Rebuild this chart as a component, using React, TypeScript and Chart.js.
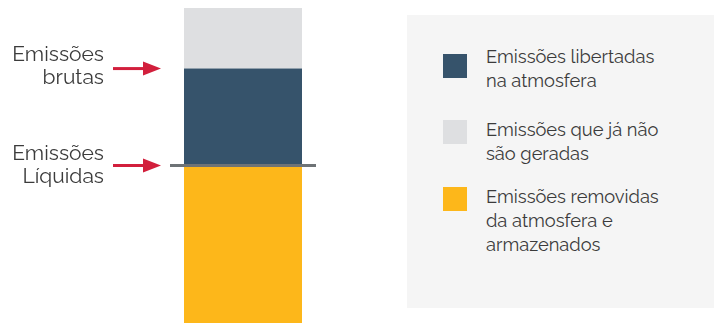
import React, { useEffect, useRef } from "react";
import { Chart, registerables } from "chart.js";

Chart.register(...registerables);

const categories = ["Emissões"];
const removedValues = [52];
const releasedValues = [32];
const avoidedValues = [20];
const seriesLabels = [
  "Emissões removidas da atmosfera e armazenados",
  "Emissões libertadas na atmosfera",
  "Emissões que já não são geradas",
];
const seriesColors = ["#FDB71A", "#36536B", "#DEDFE1"];
const grossValue = removedValues[0] + releasedValues[0];
const netValue = removedValues[0];
const axisMax = removedValues[0] + releasedValues[0] + avoidedValues[0];

const legendItems = [
  { lines: ["Emissões libertadas", "na atmosfera"], color: "#36536B", swatchTop: 54, textTop: 45 },
  { lines: ["Emissões que já não", "são geradas"], color: "#DEDFE1", swatchTop: 120, textTop: 118 },
  { lines: ["Emissões removidas", "da atmosfera e", "armazenados"], color: "#FDB71A", swatchTop: 187, textTop: 185 },
];

const FONT = "Raleway, Lato, 'Open Sans', sans-serif";
const TEXT = "#3b3b3b";

const annotPlugin = {
  id: "annot",
  afterDatasetsDraw(chart: any) {
    const { ctx, chartArea, scales } = chart;
    const y = scales.y;
    const yNet = y.getPixelForValue(netValue);
    const yGross = y.getPixelForValue(grossValue);
    ctx.save();
    ctx.strokeStyle = "#6E7376";
    ctx.lineWidth = 3;
    ctx.beginPath();
    ctx.moveTo(chartArea.left, yNet);
    ctx.lineTo(chartArea.right, yNet);
    ctx.stroke();
    const drawArrow = (yy: number) => {
      ctx.strokeStyle = "#D21F3C";
      ctx.fillStyle = "#D21F3C";
      ctx.lineWidth = 3;
      ctx.beginPath();
      ctx.moveTo(113, yy);
      ctx.lineTo(145, yy);
      ctx.stroke();
      ctx.beginPath();
      ctx.moveTo(143, yy - 7);
      ctx.lineTo(161, yy);
      ctx.lineTo(143, yy + 7);
      ctx.closePath();
      ctx.fill();
    };
    drawArrow(yGross);
    drawArrow(yNet);
    ctx.restore();
  },
};

export default function App() {
  const ref = useRef<HTMLCanvasElement | null>(null);
  useEffect(() => {
    if (!ref.current) return;
    const chart = new Chart(ref.current, {
      type: "bar",
      data: {
        labels: categories,
        datasets: [
          { label: seriesLabels[0], data: removedValues, backgroundColor: seriesColors[0] },
          { label: seriesLabels[1], data: releasedValues, backgroundColor: seriesColors[1] },
          { label: seriesLabels[2], data: avoidedValues, backgroundColor: seriesColors[2] },
        ],
      },
      options: {
        responsive: false,
        animation: false,
        devicePixelRatio: 1,
        layout: { padding: { left: 170, right: 398, top: 8, bottom: 0 } },
        datasets: { bar: { categoryPercentage: 1, barPercentage: 118 / 146, borderWidth: 0 } },
        scales: {
          x: { stacked: true, display: false },
          y: { stacked: true, display: false, min: 0, max: axisMax },
        },
        plugins: { legend: { display: false }, tooltip: { enabled: false } },
      },
      plugins: [annotPlugin],
    });
    return () => chart.destroy();
  }, []);

  const labelStyle: React.CSSProperties = {
    position: "absolute",
    right: 714 - 104,
    textAlign: "right",
    fontFamily: FONT,
    fontSize: 21,
    lineHeight: "23px",
    color: TEXT,
    whiteSpace: "nowrap",
  };

  return (
    <div style={{ position: "absolute", left: 0, top: 0, width: 714, height: 323, background: "#fff", overflow: "hidden" }}>
      <canvas ref={ref} width={714} height={323} style={{ position: "absolute", left: 0, top: 0, width: 714, height: 323 }} />
      <div style={{ ...labelStyle, top: 42 }}>Emissões<br />brutas</div>
      <div style={{ ...labelStyle, top: 141 }}>Emissões<br />Líquidas</div>
      <div style={{ position: "absolute", left: 407, top: 15, width: 307, height: 293, background: "#F5F5F5" }} />
      {legendItems.map((it, i) => (
        <React.Fragment key={i}>
          <div style={{ position: "absolute", left: 443, top: it.swatchTop, width: 24, height: 24, background: it.color }} />
          <div style={{ position: "absolute", left: 486, top: it.textTop, fontFamily: FONT, fontSize: 18.3, lineHeight: "24px", color: TEXT, whiteSpace: "nowrap" }}>
            {it.lines.map((l, j) => (
              <div key={j}>{l}</div>
            ))}
          </div>
        </React.Fragment>
      ))}
    </div>
  );
}
